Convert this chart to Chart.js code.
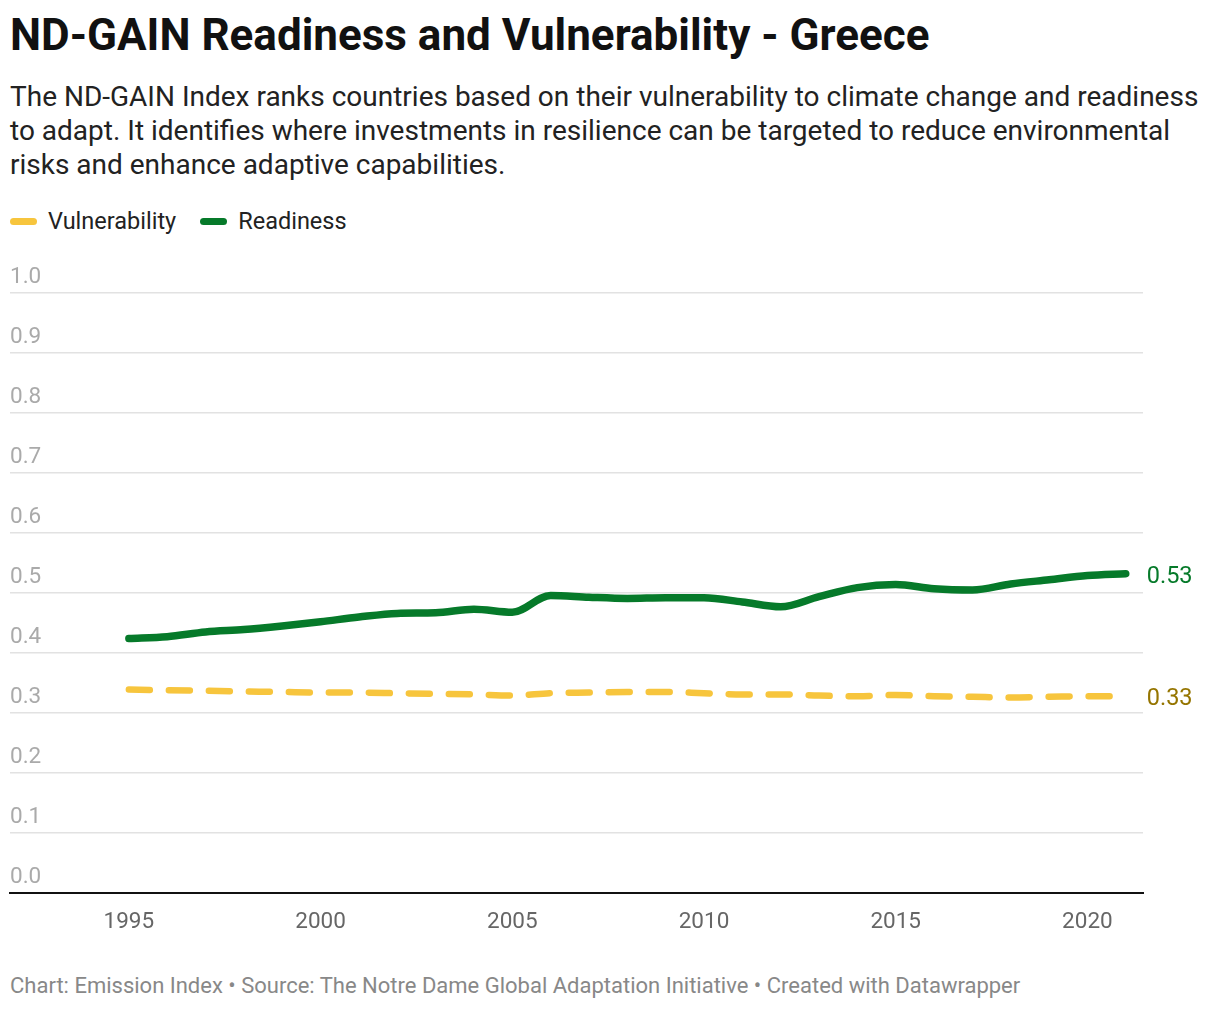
<!DOCTYPE html>
<html>
<head>
<meta charset="utf-8">
<script src="https://cdn.jsdelivr.net/npm/chart.js@4.4.0/dist/chart.umd.min.js"></script>
<style>
  body { margin: 0; background: #fff; font-family: Roboto, "Noto Sans", sans-serif; width: 1220px; height: 1010px; overflow: hidden; position: relative; }
  h1 { position: absolute; left: 10px; top: 9px; margin: 0; font-size: 44px; font-weight: 700; color: #111; line-height: 52px; }
  .sub { position: absolute; left: 10px; top: 80px; width: 1200px; font-size: 28px; line-height: 34px; color: #222; margin: 0; }
  .legend { position: absolute; left: 10px; top: 207px; font-size: 23.5px; color: #222; display: flex; align-items: center; }
  .legend span.sw { display: inline-block; width: 27px; height: 7px; border-radius: 4px; margin-right: 11px; }
  .legend span.item { display: flex; align-items: center; margin-right: 24px; }
  .wrap { position: absolute; left: 0; top: 250px; width: 1220px; height: 695px; }
  .foot { position: absolute; left: 10px; top: 973px; font-size: 22px; color: #888; }
</style>
</head>
<body>
<h1>ND-GAIN Readiness and Vulnerability - Greece</h1>
<p class="sub">The ND-GAIN Index ranks countries based on their vulnerability to climate change and readiness to adapt. It identifies where investments in resilience can be targeted to reduce environmental risks and enhance adaptive capabilities.</p>
<div class="legend">
  <span class="item"><span class="sw" style="background:#f7c53d"></span>Vulnerability</span>
  <span class="item"><span class="sw" style="background:#067a2a"></span>Readiness</span>
</div>
<div class="wrap"><canvas id="myChart"></canvas></div>
<div class="foot">Chart: Emission Index • Source: The Notre Dame Global Adaptation Initiative • Created with Datawrapper</div>
<script>
// years and values
const years = [1995, 1996, 1997, 1998, 1999, 2000, 2001, 2002, 2003, 2004, 2005, 2006, 2007,
               2008, 2009, 2010, 2011, 2012, 2013, 2014, 2015, 2016, 2017, 2018, 2019, 2020, 2021];

const readiness = [0.424, 0.427, 0.435, 0.439, 0.445, 0.452, 0.460, 0.466, 0.467, 0.473, 0.468, 0.496, 0.493,
                   0.491, 0.492, 0.492, 0.485, 0.477, 0.494, 0.509, 0.514, 0.507, 0.505, 0.515, 0.522, 0.529, 0.532];

const vulnerability = [0.339, 0.338, 0.337, 0.336, 0.335, 0.334, 0.334, 0.333, 0.332, 0.331, 0.329, 0.333, 0.334,
                       0.335, 0.335, 0.333, 0.331, 0.331, 0.329, 0.328, 0.330, 0.328, 0.327, 0.326, 0.327, 0.328, 0.328];

const xTicks = [1995, 2000, 2005, 2010, 2015, 2020];
const yTicks = [0, 0.1, 0.2, 0.3, 0.4, 0.5, 0.6, 0.7, 0.8, 0.9, 1.0];

const GREEN = '#067a2a';
const YELLOW = '#f7c53d';

// labels at the end of each line
const endLabels = {
    id: 'endLabels',
    afterDatasetsDraw(chart) {
        const ctx = chart.ctx;
        const cols = [GREEN, '#957500'];
        const txt = [readiness, vulnerability];
        ctx.save();
        ctx.font = '23.5px Roboto';
        ctx.textBaseline = 'middle';
        ctx.textAlign = 'left';
        chart.data.datasets.forEach((ds, i) => {
            const pts = chart.getDatasetMeta(i).data;
            const p = pts[pts.length - 1];
            ctx.fillStyle = cols[i];
            ctx.fillText(txt[i][txt[i].length - 1].toFixed(2), p.x + 21, p.y + 3);
        });
        ctx.restore();
    }
};

const ctx = document.getElementById('myChart').getContext('2d');
const myChart = new Chart(ctx, {
    type: 'line',
    data: {
        datasets: [
            {
                label: 'Readiness',
                data: years.map((y, i) => ({ x: y, y: readiness[i] })),
                borderColor: GREEN,
                borderWidth: 7.5,
                borderCapStyle: 'round',
                borderJoinStyle: 'round',
                pointRadius: 0,
                cubicInterpolationMode: 'monotone'
            },
            {
                label: 'Vulnerability',
                data: years.map((y, i) => ({ x: y, y: vulnerability[i] })),
                borderColor: YELLOW,
                borderWidth: 6.5,
                borderDash: [21, 19],
                borderCapStyle: 'round',
                pointRadius: 0,
                cubicInterpolationMode: 'monotone'
            }
        ]
    },
    options: {
        responsive: true,
        maintainAspectRatio: false,
        animation: false,
        layout: { padding: { left: 10, right: 77, top: 43, bottom: 0 } },
        scales: {
            x: {
                type: 'linear',
                min: 1991.9,
                max: 2021.45,
                afterBuildTicks(scale) { scale.ticks = xTicks.map(v => ({ value: v })); },
                afterFit(scale) { scale.height = 52; },
                grid: { display: false, drawTicks: false },
                border: { display: true, color: '#111', width: 2 },
                ticks: {
                    color: '#666',
                    font: { family: 'Roboto', size: 22.5 },
                    padding: 16,
                    maxRotation: 0,
                    callback: v => String(v)
                }
            },
            y: {
                min: 0,
                max: 1,
                afterBuildTicks(scale) { scale.ticks = yTicks.map(v => ({ value: v })); },
                afterFit(scale) { scale.width = 0; },
                grid: {
                    color: c => c.tick.value === 0 ? 'rgba(0,0,0,0)' : '#e2e2e2',
                    lineWidth: 1.5,
                    drawTicks: false
                },
                border: { display: false },
                ticks: {
                    mirror: true,
                    padding: 0,
                    labelOffset: -16,
                    color: '#aaa',
                    font: { family: 'Roboto', size: 22.5 },
                    callback: v => v.toFixed(1)
                }
            }
        },
        plugins: {
            legend: { display: false },
            tooltip: { enabled: false }
        }
    },
    plugins: [endLabels]
});
</script>
</body>
</html>
